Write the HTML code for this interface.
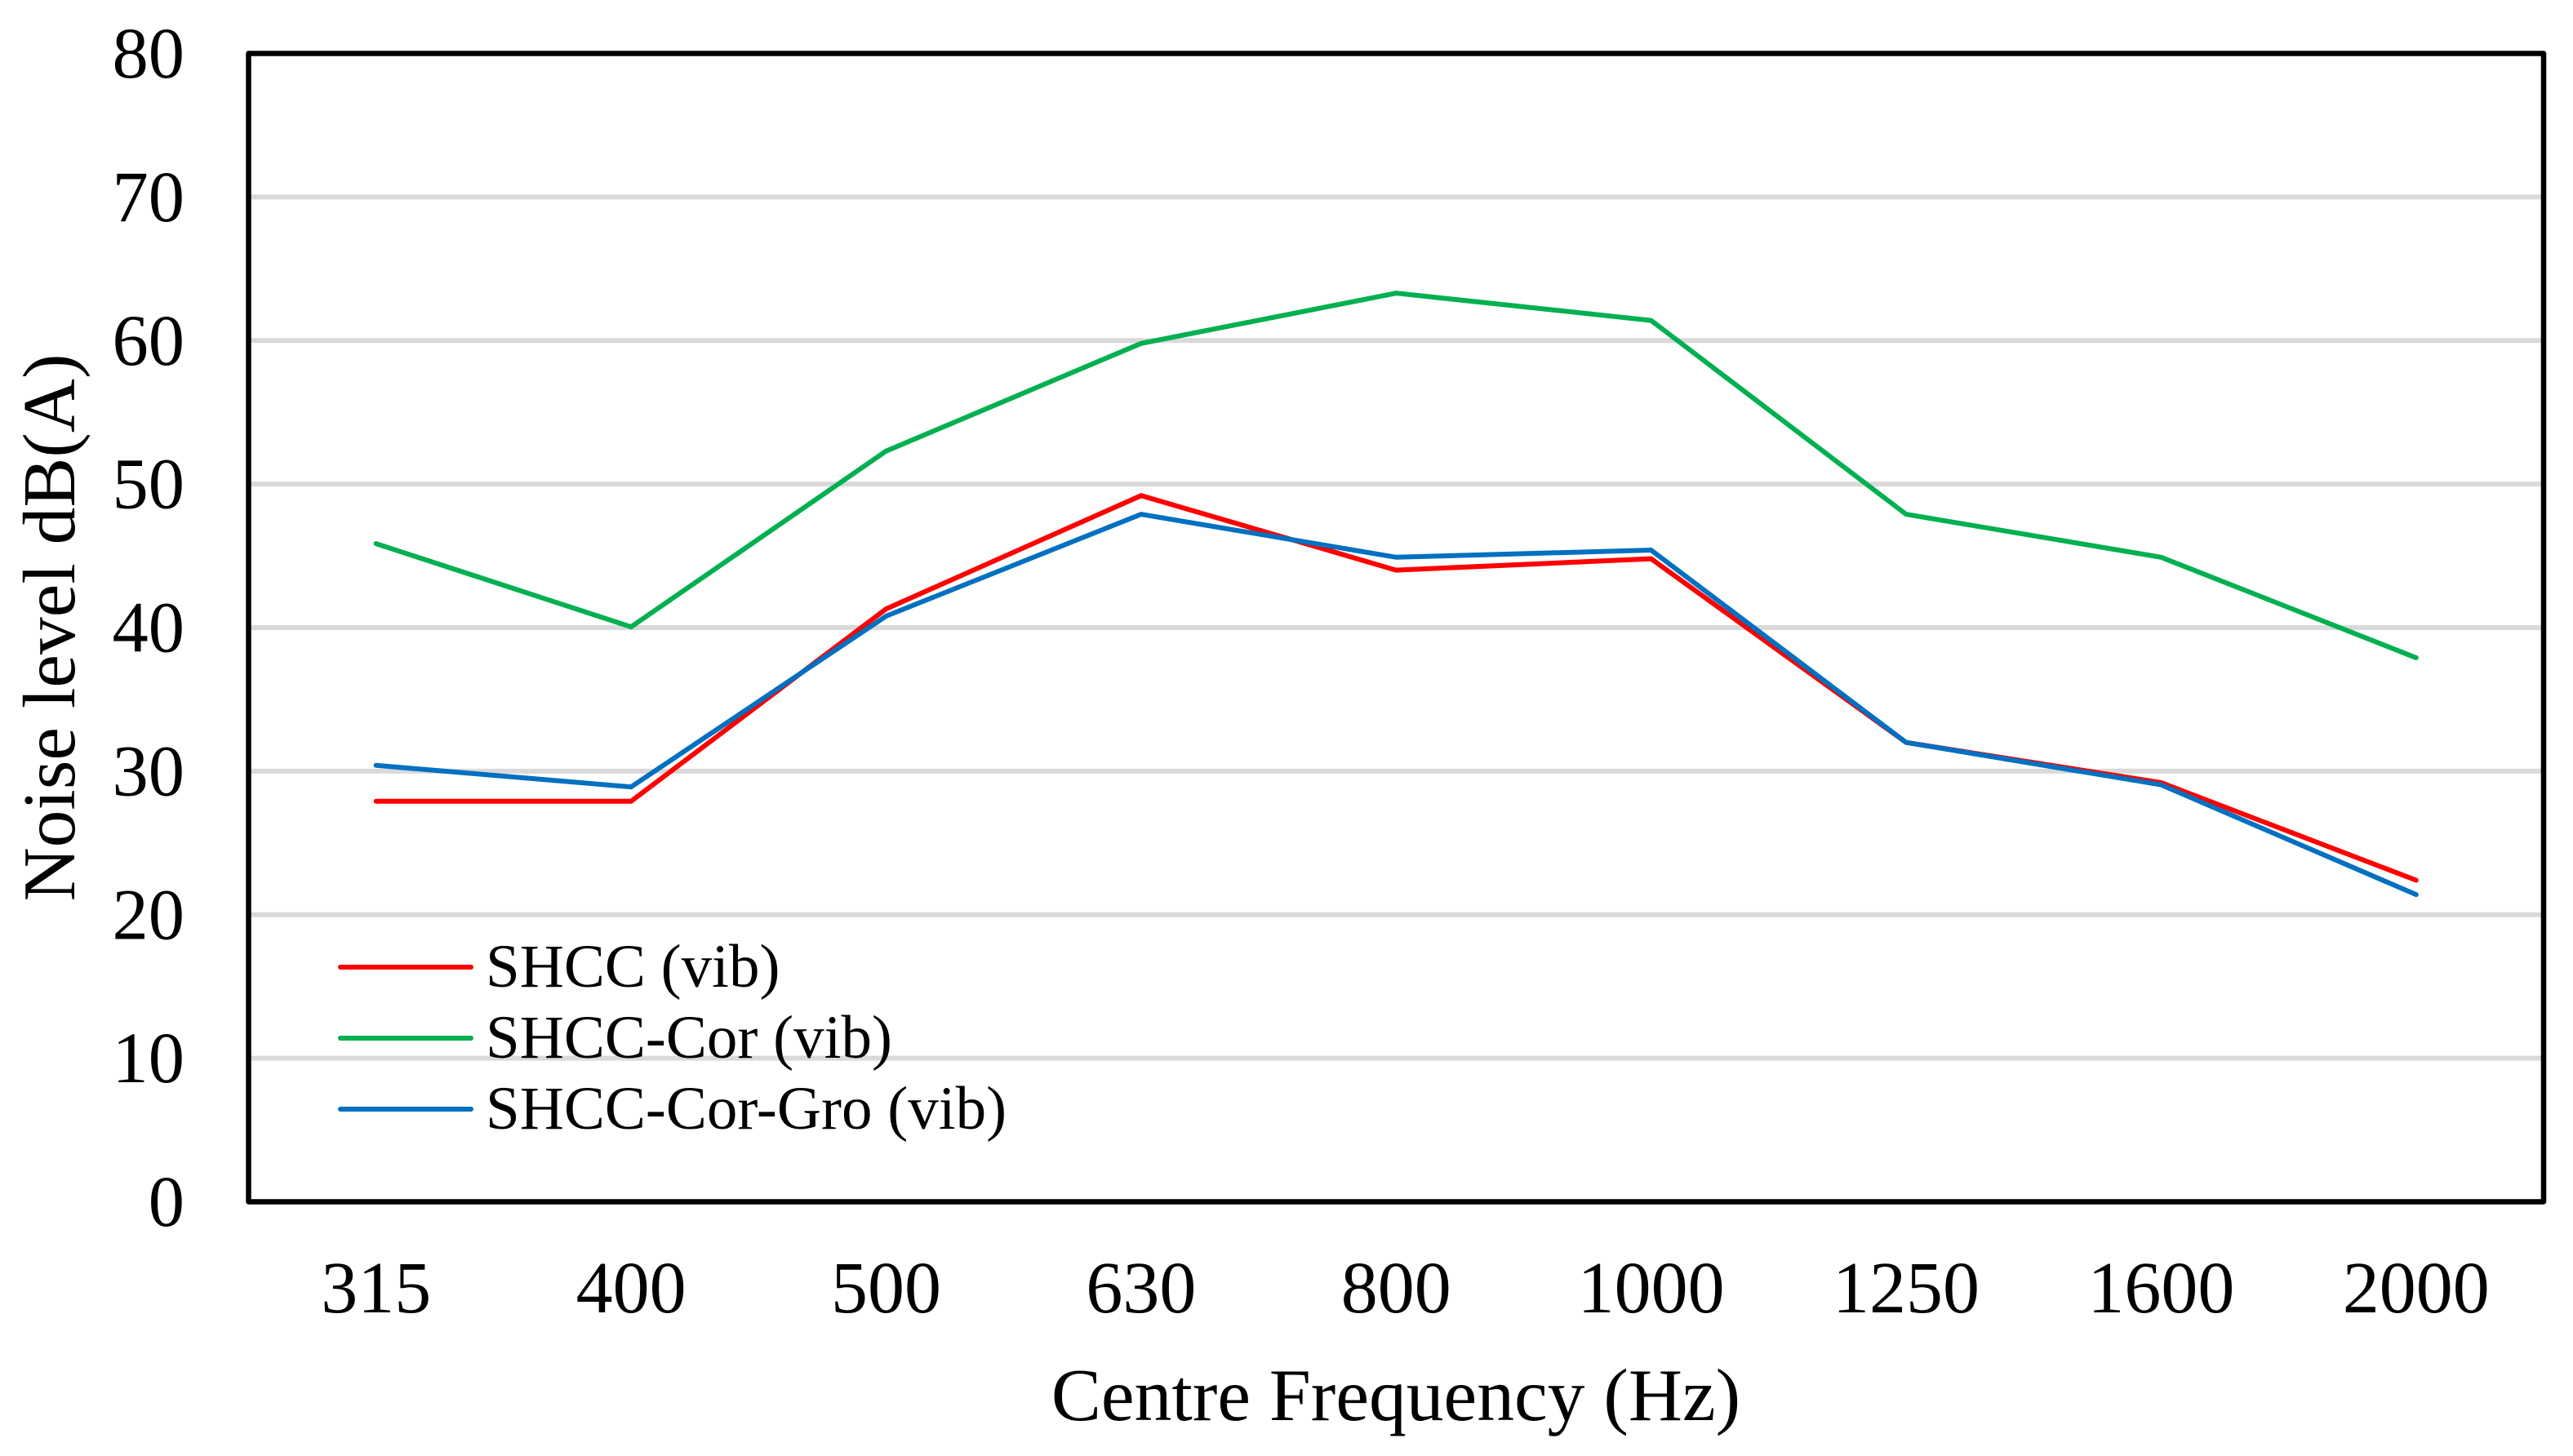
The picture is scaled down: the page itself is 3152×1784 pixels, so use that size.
<!DOCTYPE html>
<html lang="en">
<head>
<meta charset="utf-8">
<title>Noise level vs centre frequency</title>
<style>
html,body{margin:0;padding:0;background:#fff;width:3152px;height:1784px;overflow:hidden}
svg{display:block}
text{font-family:"Liberation Serif","Times New Roman",serif;fill:#000}
</style>
</head>
<body>
<svg id="chart" xmlns="http://www.w3.org/2000/svg" width="3152" height="1784" viewBox="0 0 3152 1784"></svg>
<script>
const categories = ['315','400','500','630','800','1000','1250','1600','2000'];
const yTicks = [0,10,20,30,40,50,60,70,80];
const shccValues = [27.9,27.9,41.3,49.2,44.0,44.8,32.0,29.2,22.4];
const shccCorValues = [45.85,40.05,52.3,59.8,63.3,61.4,47.9,44.9,37.9];
const shccCorGroValues = [30.4,28.9,40.8,47.9,44.9,45.4,32.0,29.05,21.4];
const seriesNames = ['SHCC (vib)','SHCC-Cor (vib)','SHCC-Cor-Gro (vib)'];

const NS = 'http://www.w3.org/2000/svg';
const svg = document.getElementById('chart');
const plot = {left:304.5, right:3116, top:65.5, bottom:1472.5};
const yMax = 80;
function xPos(i){ return plot.left + (i + 0.5) * (plot.right - plot.left) / categories.length; }
function yPos(v){ return plot.bottom - (v / yMax) * (plot.bottom - plot.top); }
function make(tag, attrs, text){
  const el = document.createElementNS(NS, tag);
  for (const k in attrs) el.setAttribute(k, attrs[k]);
  if (text !== undefined) el.textContent = text;
  svg.appendChild(el);
  return el;
}

yTicks.forEach(function(t){
  if (t === 0 || t === yMax) return;
  const g = make('line', {x1:plot.left, x2:plot.right, y1:yPos(t), y2:yPos(t), stroke:'#d9d9d9', 'stroke-width':6});
  
  
});

yTicks.forEach(function(t){
  const l = make('text', {x:226, y:yPos(t) + 29.5, 'text-anchor':'end', 'font-size':88.5}, String(t));
  
  
});

categories.forEach(function(c, i){
  const l = make('text', {x:xPos(i), y:1608, 'text-anchor':'middle', 'font-size':90}, c);
  
  
});

function drawSeries(values, color, name){
  const pts = values.map(function(v, i){ return xPos(i).toFixed(1) + ',' + yPos(v).toFixed(1); }).join(' ');
  const p = make('polyline', {points:pts, fill:'none', stroke:color, 'stroke-width':6, 'stroke-linejoin':'miter', 'stroke-linecap':'round'});
  
  
}
drawSeries(shccCorValues, '#00b050', 'series-shcc-cor');
drawSeries(shccValues, '#ff0000', 'series-shcc');
drawSeries(shccCorGroValues, '#0070c0', 'series-shcc-cor-gro');

const frame = make('rect', {x:plot.left, y:plot.top, width:plot.right - plot.left, height:plot.bottom - plot.top, fill:'none', stroke:'#000', 'stroke-width':6.5, 'stroke-linejoin':'round'});



const legendColors = ['#ff0000','#00b050','#0070c0'];
const legendKeys = ['shcc','shcc-cor','shcc-cor-gro'];
seriesNames.forEach(function(n, i){
  const y = 1185 + i * 87;
  const sw = make('line', {x1:417, x2:577, y1:y, y2:y, stroke:legendColors[i], 'stroke-width':6, 'stroke-linecap':'round'});
  
  
  const t = make('text', {x:595, y:y + 24, 'font-size':75}, n);
  
  
});

const xt = make('text', {x:1710, y:1740, 'text-anchor':'middle', 'font-size':91.6}, 'Centre Frequency (Hz)');



const yt = make('text', {x:0, y:0, 'text-anchor':'middle', 'font-size':91.5, transform:'translate(91 769) rotate(-90)'}, 'Noise level dB(A)');


</script>
</body>
</html>
